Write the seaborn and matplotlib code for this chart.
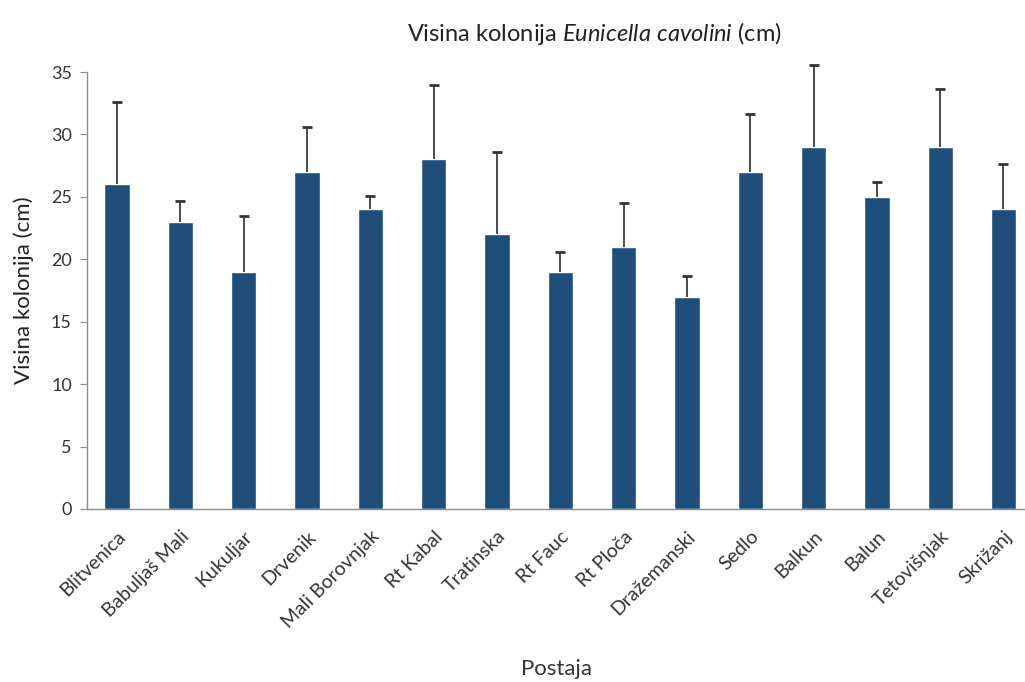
import numpy as np
import pandas as pd
import matplotlib
matplotlib.use("Agg")
import matplotlib.pyplot as plt
import seaborn as sns

# Data
postaje = ["Blitvenica", "Babuljaš Mali", "Kukuljar", "Drvenik", "Mali Borovnjak",
           "Rt Kabal", "Tratinska", "Rt Fauc", "Rt Ploča", "Dražemanski",
           "Sedlo", "Balkun", "Balun", "Tetovišnjak", "Skrižanj"]
visina = [26, 23, 19, 27, 24, 28, 22, 19, 21, 17, 27, 29, 25, 29, 24]
greska = [6.6, 1.7, 4.5, 3.6, 1.1, 6.0, 6.6, 1.6, 3.5, 1.7, 4.6, 6.6, 1.2, 4.6, 3.6]

df = pd.DataFrame({"postaja": postaje, "visina": visina, "sd": greska})
df["vrh"] = df["visina"] + df["sd"]

sns.set_style("white")
plt.rcParams["font.family"] = ["Lato", "DejaVu Sans"]
plt.rcParams["mathtext.fontset"] = "custom"
plt.rcParams["mathtext.rm"] = "Lato"
plt.rcParams["mathtext.it"] = "Lato:italic"

fig = plt.figure(figsize=(10.25, 6.82), dpi=100)
ax = fig.add_axes([0.085, 0.2537, 0.915, 0.6407])

bar_color = "#1F4E7A"
sns.barplot(data=df, x="postaja", y="visina", color=bar_color, width=0.4,
            saturation=1, errorbar=None, ax=ax)

# upward-only error bars with a cap only at the top
x = np.arange(len(postaje))
ax.vlines(x, df["visina"], df["vrh"], color="#4a4a4a", lw=1.4, clip_on=False, zorder=3)
ax.plot(x, df["vrh"], ls="none", marker="_", ms=7, mew=2, color="#333333",
        clip_on=False, zorder=3)

ax.set_ylim(0, 35)
ax.set_yticks(range(0, 36, 5))
ax.set_xlim(-0.474, 14.34)

for s in ["top", "right"]:
    ax.spines[s].set_visible(False)
for s in ["left", "bottom"]:
    ax.spines[s].set_color("#8c8c8c")
    ax.spines[s].set_linewidth(1)

ax.tick_params(axis="y", left=True, length=5, color="#8c8c8c", labelsize=13,
               labelcolor="#333333", pad=6)
ax.tick_params(axis="x", bottom=False, labelsize=14, labelcolor="#333333", pad=10)
plt.setp(ax.get_xticklabels(), rotation=45, ha="right", rotation_mode="anchor")

ax.set_xlabel("Postaja", fontsize=16, color="#333333", labelpad=20)
ax.set_ylabel("Visina kolonija (cm)", fontsize=16, color="#222222", labelpad=12)
fig.suptitle(r"Visina kolonija $\it{Eunicella\ cavolini}$ (cm)", fontsize=17,
             color="#222222", x=0.58, y=0.97)

fig.savefig("out.png", dpi=100)
